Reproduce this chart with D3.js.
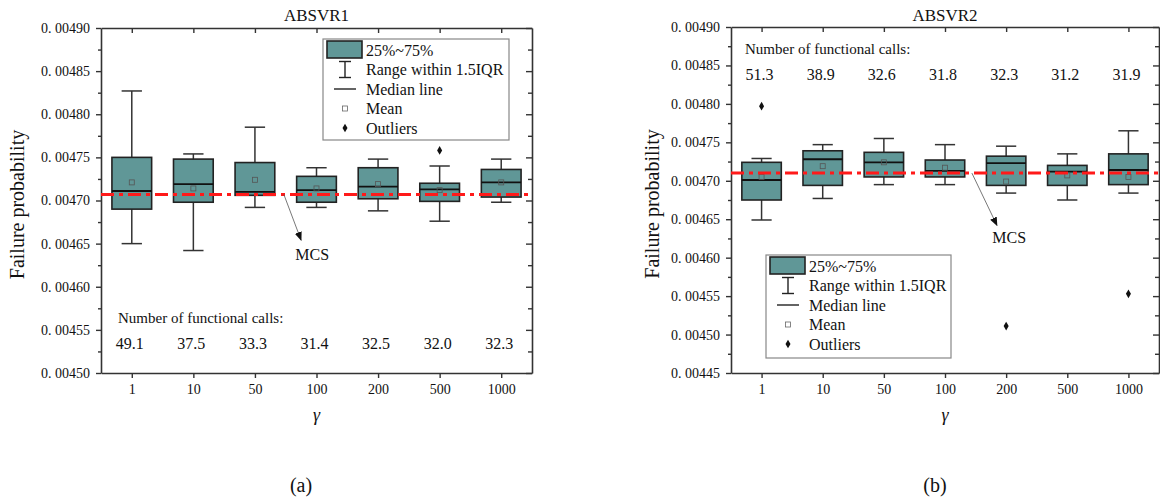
<!DOCTYPE html>
<html>
<head>
<meta charset="utf-8">
<script src="https://cdn.jsdelivr.net/npm/d3@7"></script>
<style>
  body { margin: 0; background: #fff; }
  svg text { font-family: "Liberation Serif", "Times New Roman", Times, serif !important; fill: #111; }
</style>
</head>
<body>
<svg id="fig" width="1160" height="498"></svg>
<script>
var gammas = ["1", "10", "50", "100", "200", "500", "1000"];

// ABSVR1 (a)
var a_low  = [0.004650, 0.004642, 0.004692, 0.004692, 0.004688, 0.004676, 0.004698];
var a_q1   = [0.004690, 0.004698, 0.004706, 0.004698, 0.004702, 0.004699, 0.004704];
var a_med  = [0.004711, 0.004719, 0.004710, 0.004712, 0.004716, 0.004713, 0.004721];
var a_q3   = [0.004750, 0.004748, 0.004744, 0.004728, 0.004738, 0.004720, 0.004736];
var a_high = [0.004827, 0.004754, 0.004785, 0.004738, 0.004748, 0.004740, 0.004748];
var a_mean = [0.004721, 0.004714, 0.004724, 0.004714, 0.004719, 0.004712, 0.004721];
var a_outliers = [{g: "500", v: 0.004758}];
var a_calls = ["49.1", "37.5", "33.3", "31.4", "32.5", "32.0", "32.3"];
var a_mcs = 0.004707;
var a_ticks = [0.00450, 0.00455, 0.00460, 0.00465, 0.00470, 0.00475, 0.00480, 0.00485, 0.00490];

// ABSVR2 (b)
var b_low  = [0.004649, 0.004677, 0.004695, 0.004695, 0.004684, 0.004675, 0.004684];
var b_q1   = [0.004675, 0.004694, 0.004705, 0.004705, 0.004694, 0.004694, 0.004695];
var b_med  = [0.004701, 0.004728, 0.004724, 0.004713, 0.004723, 0.004712, 0.004714];
var b_q3   = [0.004724, 0.004739, 0.004737, 0.004727, 0.004732, 0.004720, 0.004735];
var b_high = [0.004729, 0.004747, 0.004755, 0.004747, 0.004745, 0.004735, 0.004765];
var b_mean = [0.004705, 0.004719, 0.004724, 0.004717, 0.004699, 0.004707, 0.004705];
var b_outliers = [{g: "1", v: 0.004797}, {g: "200", v: 0.004511}, {g: "1000", v: 0.004553}];
var b_calls = ["51.3", "38.9", "32.6", "31.8", "32.3", "31.2", "31.9"];
var b_mcs = 0.004710;
var b_ticks = [0.00445, 0.00450, 0.00455, 0.00460, 0.00465, 0.00470, 0.00475, 0.00480, 0.00485, 0.00490];

var legendLabels = ["25%~75%", "Range within 1.5IQR", "Median line", "Mean", "Outliers"];

var serif = "'Liberation Serif', 'Times New Roman', Times, serif";
var svg = d3.select("#fig").attr("font-family", serif);

var boxFill = "#609797";
var axisCol = "#333";

function fmt(v) { return d3.format(".5f")(v).replace(".", ". "); }

function panel(p) {
  var x = d3.scalePoint().domain(gammas).range([p.x0, p.x1]).padding(0.5);
  var y = d3.scaleLinear().domain([p.ticks[0], p.ticks[p.ticks.length - 1]]).range([p.y1, p.y0]);
  var step = x.step();
  var bw = step * 0.645, cw = step * 0.33;
  var g = svg.append("g");

  // minor ticks between majors
  var minor = [];
  for (var i = 0; i < p.ticks.length - 1; i++) minor.push((p.ticks[i] + p.ticks[i + 1]) / 2);

  // left axis
  var la = g.append("g").attr("transform", "translate(" + p.x0 + ",0)")
    .call(d3.axisLeft(y).tickValues(p.ticks).tickFormat(fmt).tickSize(5).tickSizeOuter(0).tickPadding(6));
  la.attr("font-family", serif).attr("font-size", 14);
  g.append("g").attr("transform", "translate(" + p.x0 + ",0)")
    .call(d3.axisLeft(y).tickValues(minor).tickFormat("").tickSize(3).tickSizeOuter(0))
    .select(".domain").remove();

  // right axis (inward)
  g.append("g").attr("transform", "translate(" + p.x1 + ",0)")
    .call(d3.axisLeft(y).tickValues(p.ticks).tickFormat("").tickSize(6).tickSizeOuter(0));
  g.append("g").attr("transform", "translate(" + p.x1 + ",0)")
    .call(d3.axisLeft(y).tickValues(minor).tickFormat("").tickSize(4).tickSizeOuter(0))
    .select(".domain").remove();

  // bottom axis
  var ba = g.append("g").attr("transform", "translate(0," + p.y1 + ")")
    .call(d3.axisBottom(x).tickSize(5).tickSizeOuter(0).tickPadding(6));
  ba.attr("font-family", serif).attr("font-size", 14);

  // top axis (inward)
  g.append("g").attr("transform", "translate(0," + p.y0 + ")")
    .call(d3.axisBottom(x).tickSize(5).tickSizeOuter(0).tickFormat(""));

  g.selectAll(".domain").attr("stroke", axisCol).attr("stroke-width", 1.6);
  g.selectAll(".tick line").attr("stroke", axisCol).attr("stroke-width", 1.4);
  g.selectAll(".tick text").attr("fill", "#222");

  // boxes
  var bx = g.selectAll(".bx").data(gammas).enter().append("g").attr("class", "bx");
  bx.append("line")
    .attr("x1", function(d) { return x(d); }).attr("x2", function(d) { return x(d); })
    .attr("y1", function(d, i) { return y(p.high[i]); }).attr("y2", function(d, i) { return y(p.low[i]); })
    .attr("stroke", axisCol).attr("stroke-width", 1.5);
  bx.append("line")
    .attr("x1", function(d) { return x(d) - cw / 2; }).attr("x2", function(d) { return x(d) + cw / 2; })
    .attr("y1", function(d, i) { return y(p.high[i]); }).attr("y2", function(d, i) { return y(p.high[i]); })
    .attr("stroke", axisCol).attr("stroke-width", 1.5);
  bx.append("line")
    .attr("x1", function(d) { return x(d) - cw / 2; }).attr("x2", function(d) { return x(d) + cw / 2; })
    .attr("y1", function(d, i) { return y(p.low[i]); }).attr("y2", function(d, i) { return y(p.low[i]); })
    .attr("stroke", axisCol).attr("stroke-width", 1.5);
  bx.append("rect")
    .attr("x", function(d) { return x(d) - bw / 2; }).attr("width", bw)
    .attr("y", function(d, i) { return y(p.q3[i]); })
    .attr("height", function(d, i) { return y(p.q1[i]) - y(p.q3[i]); })
    .attr("fill", boxFill).attr("stroke", "#222").attr("stroke-width", 1.6);
  bx.append("line")
    .attr("x1", function(d) { return x(d) - bw / 2; }).attr("x2", function(d) { return x(d) + bw / 2; })
    .attr("y1", function(d, i) { return y(p.med[i]); }).attr("y2", function(d, i) { return y(p.med[i]); })
    .attr("stroke", "#111").attr("stroke-width", 1.8);

  // MCS reference line
  g.append("line")
    .attr("x1", p.x0).attr("x2", p.x1).attr("y1", y(p.mcs)).attr("y2", y(p.mcs))
    .attr("stroke", "#ff1a1a").attr("stroke-width", 3).attr("stroke-dasharray", "13,5,4,5");

  // means
  bx.append("rect")
    .attr("x", function(d) { return x(d) - 2.5; }).attr("width", 5)
    .attr("y", function(d, i) { return y(p.mean[i]) - 2.5; }).attr("height", 5)
    .attr("fill", "none").attr("stroke", "#555").attr("stroke-width", 0.8);

  // outliers
  g.selectAll(".out").data(p.outliers).enter().append("path")
    .attr("transform", function(d) { return "translate(" + x(d.g) + "," + y(d.v) + ")"; })
    .attr("d", d3.symbol(d3.symbolDiamond, 22)).attr("fill", "#111");

  // title
  g.append("text").attr("x", (p.x0 + p.x1) / 2).attr("y", 21).attr("text-anchor", "middle")
    .style("font-size", "17px").text(p.title);

  // axis labels
  g.append("text").attr("transform", "translate(" + p.ylabX + "," + ((p.y0 + p.y1) / 2 + 4) + ") rotate(-90)")
    .attr("text-anchor", "middle").attr("dy", "0.35em").style("font-size", "20px").text("Failure probability");
  g.append("text").attr("x", (p.x0 + p.x1) / 2).attr("y", 421).attr("text-anchor", "middle")
    .style("font-size", "18px").style("font-style", "italic").text("\u03b3");
  g.append("text").attr("x", p.capX).attr("y", 492).attr("text-anchor", "middle")
    .style("font-size", "20px").text(p.caption);

  // functional calls
  g.append("text").attr("x", p.callsX).attr("y", p.callsY).style("font-size", "15px")
    .text("Number of functional calls:");
  g.selectAll(".calls").data(p.calls).enter().append("text")
    .attr("x", function(d, i) { return x(gammas[i]) - 2; }).attr("y", p.callsY + 26)
    .attr("text-anchor", "middle").style("font-size", "16px").text(function(d) { return d; });

  // MCS arrow
  var ax = function(f) { return x(gammas[0]) + f * step; };
  g.append("line")
    .attr("x1", ax(p.arrow[0])).attr("y1", y(p.mcs))
    .attr("x2", ax(p.arrow[1])).attr("y2", y(p.arrow[2]))
    .attr("stroke", "#555").attr("stroke-width", 0.8).attr("marker-end", "url(#arr)");
  g.append("text").attr("x", ax(p.arrow[3])).attr("y", y(p.arrow[4])).attr("dy", "0.35em")
    .attr("text-anchor", "middle").style("font-size", "16px").text("MCS");

  // legend
  var lg = g.append("g").attr("transform", "translate(" + p.leg[0] + "," + p.leg[1] + ")");
  lg.append("rect").attr("width", p.leg[2]).attr("height", p.leg[3])
    .attr("fill", "#fff").attr("stroke", "#888").attr("stroke-width", 1.2);
  var sx = 22;
  lg.append("rect").attr("x", 4).attr("y", 2).attr("width", 35).attr("height", 17)
    .attr("fill", boxFill).attr("stroke", "#222").attr("stroke-width", 1.6);
  var r = 19.5, ry = 11;
  lg.append("line").attr("x1", sx).attr("x2", sx).attr("y1", ry + r - 8).attr("y2", ry + r + 8).attr("stroke", "#222").attr("stroke-width", 1.4);
  lg.append("line").attr("x1", sx - 6).attr("x2", sx + 6).attr("y1", ry + r - 8).attr("y2", ry + r - 8).attr("stroke", "#222").attr("stroke-width", 1.4);
  lg.append("line").attr("x1", sx - 6).attr("x2", sx + 6).attr("y1", ry + r + 8).attr("y2", ry + r + 8).attr("stroke", "#222").attr("stroke-width", 1.4);
  lg.append("line").attr("x1", sx - 11).attr("x2", sx + 11).attr("y1", ry + 2 * r).attr("y2", ry + 2 * r).attr("stroke", "#222").attr("stroke-width", 1.4);
  lg.append("rect").attr("x", sx - 2.5).attr("y", ry + 3 * r - 2.5).attr("width", 5).attr("height", 5)
    .attr("fill", "none").attr("stroke", "#666").attr("stroke-width", 0.8);
  lg.append("path").attr("transform", "translate(" + sx + "," + (ry + 4 * r) + ")")
    .attr("d", d3.symbol(d3.symbolDiamond, 22)).attr("fill", "#111");
  lg.selectAll(".lt").data(legendLabels).enter().append("text")
    .attr("x", 43).attr("y", function(d, i) { return ry + i * r; }).attr("dy", "0.35em")
    .style("font-size", "16px").text(function(d) { return d; });
}

svg.append("defs").append("marker").attr("id", "arr")
  .attr("viewBox", "0 0 10 10").attr("refX", 9).attr("refY", 5)
  .attr("markerWidth", 9).attr("markerHeight", 9).attr("markerUnits", "userSpaceOnUse")
  .attr("orient", "auto")
  .append("path").attr("d", "M0,1 L10,5 L0,9 Z").attr("fill", "#111");

panel({
  title: "ABSVR1", caption: "(a)", capX: 301,
  x0: 101, x1: 532, y0: 28, y1: 373, ticks: a_ticks,
  low: a_low, q1: a_q1, med: a_med, q3: a_q3, high: a_high, mean: a_mean,
  outliers: a_outliers, calls: a_calls, mcs: a_mcs,
  callsX: 118, callsY: 323, ylabX: 17,
  arrow: [2.47, 2.75, 0.004654, 2.93, 0.004638],
  leg: [323, 39, 186, 101]
});

panel({
  title: "ABSVR2", caption: "(b)", capX: 935,
  x0: 731, x1: 1159, y0: 27, y1: 373, ticks: b_ticks,
  low: b_low, q1: b_q1, med: b_med, q3: b_q3, high: b_high, mean: b_mean,
  outliers: b_outliers, calls: b_calls, mcs: b_mcs,
  callsX: 745, callsY: 54, ylabX: 652,
  arrow: [3.44, 3.85, 0.004642, 4.05, 0.004626],
  leg: [766, 255, 185, 103]
});
</script>
</body>
</html>
